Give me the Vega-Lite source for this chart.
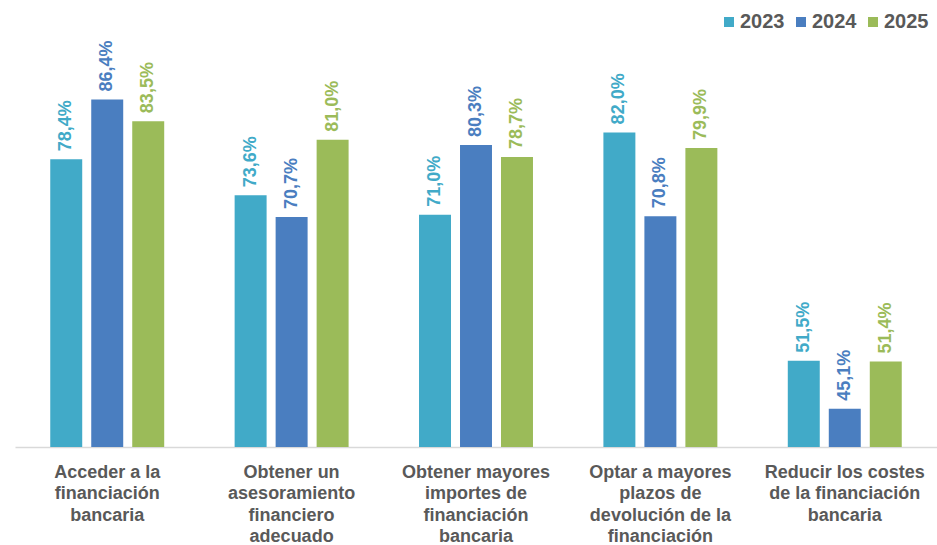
{
  "$schema": "https://vega.github.io/schema/vega-lite/v6.json",
  "width": 922,
  "height": 412,
  "autosize": {"type": "none"},
  "padding": {"left": 15, "top": 35, "right": 0, "bottom": 98},
  "background": "white",
  "config": {
    "view": {"stroke": null},
    "font": "Liberation Sans",
    "locale": {"number": {"decimal": ",", "thousands": ".", "grouping": [3], "currency": ["", " €"]}}
  },
  "data": {
    "values": [
      {"categoria": "Acceder a la|financiación|bancaria", "anio": "2023", "valor": 0.784},
      {"categoria": "Acceder a la|financiación|bancaria", "anio": "2024", "valor": 0.864},
      {"categoria": "Acceder a la|financiación|bancaria", "anio": "2025", "valor": 0.835},
      {"categoria": "Obtener un|asesoramiento|financiero|adecuado", "anio": "2023", "valor": 0.736},
      {"categoria": "Obtener un|asesoramiento|financiero|adecuado", "anio": "2024", "valor": 0.707},
      {"categoria": "Obtener un|asesoramiento|financiero|adecuado", "anio": "2025", "valor": 0.810},
      {"categoria": "Obtener mayores|importes de|financiación|bancaria", "anio": "2023", "valor": 0.710},
      {"categoria": "Obtener mayores|importes de|financiación|bancaria", "anio": "2024", "valor": 0.803},
      {"categoria": "Obtener mayores|importes de|financiación|bancaria", "anio": "2025", "valor": 0.787},
      {"categoria": "Optar a mayores|plazos de|devolución de la|financiación", "anio": "2023", "valor": 0.820},
      {"categoria": "Optar a mayores|plazos de|devolución de la|financiación", "anio": "2024", "valor": 0.708},
      {"categoria": "Optar a mayores|plazos de|devolución de la|financiación", "anio": "2025", "valor": 0.799},
      {"categoria": "Reducir los costes|de la financiación|bancaria", "anio": "2023", "valor": 0.515},
      {"categoria": "Reducir los costes|de la financiación|bancaria", "anio": "2024", "valor": 0.451},
      {"categoria": "Reducir los costes|de la financiación|bancaria", "anio": "2025", "valor": 0.514}
    ]
  },
  "encoding": {
    "x": {
      "field": "categoria",
      "type": "nominal",
      "sort": null,
      "scale": {"paddingInner": 0.333, "paddingOuter": 0.1667},
      "axis": {
        "title": null,
        "labelAngle": 0,
        "labelExpr": "split(datum.label, '|')",
        "labelFontSize": 18,
        "labelFontWeight": "bold",
        "labelColor": "#595959",
        "labelLineHeight": 21.5,
        "labelPadding": 25,
        "labelBaseline": "middle",
        "labelLimit": 0,
        "ticks": false,
        "domainColor": "#D9D9D9",
        "domainWidth": 1.5
      }
    },
    "xOffset": {
      "field": "anio",
      "type": "nominal",
      "scale": {"paddingInner": 0.22, "paddingOuter": 0.11}
    },
    "y": {
      "field": "valor",
      "type": "quantitative",
      "scale": {"domain": [0.4, 0.95], "zero": false, "nice": false},
      "axis": null
    },
    "color": {
      "field": "anio",
      "type": "nominal",
      "scale": {"domain": ["2023", "2024", "2025"], "range": ["#41AAC8", "#4A7EC0", "#9BBB59"]},
      "legend": {
        "orient": "none",
        "legendX": 704,
        "legendY": -23,
        "direction": "horizontal",
        "title": null,
        "symbolType": "square",
        "symbolSize": 100,
        "symbolStrokeWidth": 0,
        "labelFontSize": 20,
        "labelFontWeight": "bold",
        "labelColor": "#595959",
        "labelOffset": 1,
        "columnPadding": 6,
        "padding": 0
      }
    }
  },
  "layer": [
    {"mark": {"type": "bar"}, "encoding": {"y2": {"datum": 0.4}}},
    {
      "mark": {"type": "text", "angle": 270, "align": "left", "baseline": "middle", "dx": 8, "fontSize": 18, "fontWeight": "bold"},
      "encoding": {"text": {"field": "valor", "type": "quantitative", "format": ".1%"}}
    }
  ]
}
